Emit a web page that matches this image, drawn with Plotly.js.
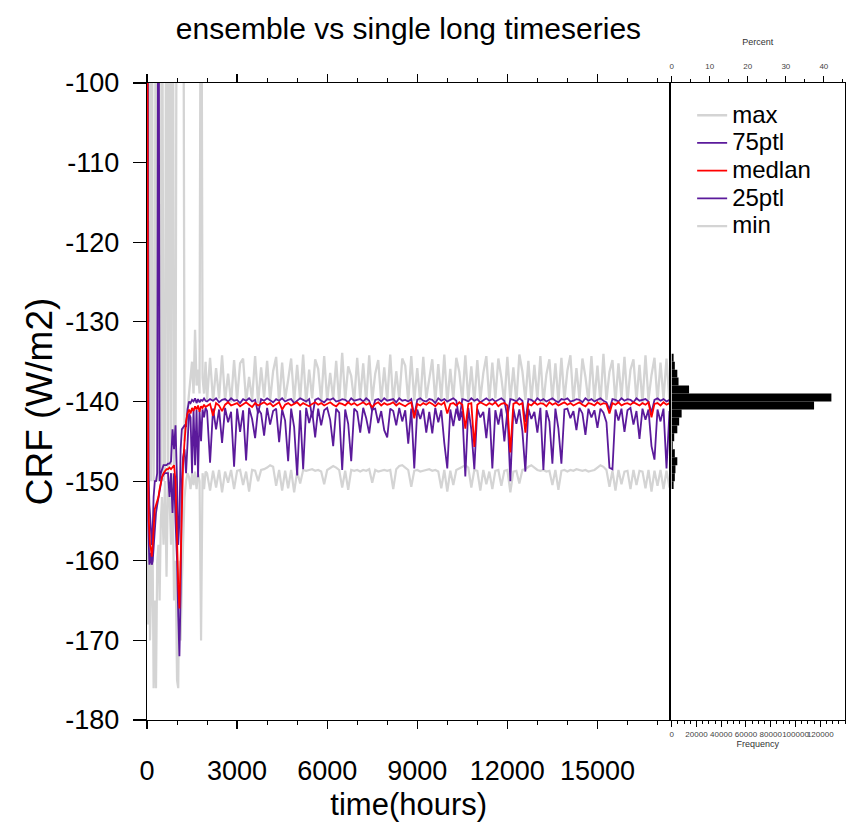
<!DOCTYPE html>
<html>
<head>
<meta charset="utf-8">
<script src="https://cdn.plot.ly/plotly-3.0.1.min.js"></script>
<style>html,body{margin:0;padding:0;background:#fff;}#chart{width:854px;height:835px;}</style>
</head>
<body>
<div id="chart"></div>
<script>
// ---- time axis (hours) ----
const hours = [0,20,40,60,80,100,130,160,190,220,260,300,340,380,420,460,500,550,600,650,700,750,800,850,900,950,1000,1040,1080,1120,1160,1200,1250,1300,1350,1400,1450,1500,1550,1600,1650,1700,1750,1800,1850,1900,1950,
2000,2100,2200,2300,2400,2500,2600,2700,2800,2900,3000,3100,3200,3300,3400,3500,3600,3700,3800,3900,
4000,4100,4200,4300,4400,4500,4600,4700,4800,4900,5000,5100,5200,5300,5400,5500,5600,5700,5800,5900,
6000,6100,6200,6300,6400,6500,6600,6700,6800,6900,7000,7100,7200,7300,7400,7500,7600,7700,7800,7900,
8000,8100,8200,8300,8400,8500,8600,8700,8800,8900,9000,9100,9200,9300,9400,9500,9600,9700,9800,9900,
10000,10100,10200,10300,10400,10500,10600,10700,10800,10900,11000,11100,11200,11300,11400,11500,11600,11700,11800,11900,
12000,12100,12200,12300,12400,12500,12600,12700,12800,12900,13000,13100,13200,13300,13400,13500,13600,13700,13800,13900,
14000,14100,14200,14300,14400,14500,14600,14700,14800,14900,15000,15100,15200,15300,15400,15500,15600,15700,15800,15900,
16000,16100,16200,16300,16400,16500,16600,16700,16800,16900,17000,17100,17200,17300,17400];

// ---- ensemble statistics (W/m2) ----
const crfMax = [-60,-60,-90,-60,-130,-70,-150,-60,-140,-150,-130,-70,-150,-60,-145,-150,-70,-150,-148,-60,-150,-70,-148,-60,-148,-146,-60,-60,-80,-60,-90,-60,-145,-143,-140,-138,-137,-135,-139,-131,-138,-136,-139,-60,-137,-139,-135,
-139.8,-134.5,-140.0,-135.8,-139.6,-134.2,-139.9,-136.5,-140.1,-134.8,
-139.7,-135.2,-134.6,-140.0,-136.9,-139.8,-134.3,-140.2,-135.7,-139.5,
-134.9,-139.9,-136.2,-134.4,-140.1,-135.1,-139.7,-137.3,-134.6,-140.0,
-135.4,-139.8,-134.1,-140.2,-136.0,-139.6,-134.7,-135.9,-140.0,-134.3,
-139.9,-136.4,-139.7,-134.9,-140.1,-133.9,-139.8,-135.6,-136.8,-140.0,
-134.5,-139.6,-135.2,-140.1,-134.2,-139.9,-136.5,-134.8,-140.0,-135.7,
-139.8,-134.1,-140.2,-136.2,-139.7,-134.6,-135.5,-140.0,-134.3,-139.9,
-135.8,-140.1,-134.4,-139.6,-136.9,-134.7,-140.0,-135.3,-139.8,-134.1,
-140.2,-135.9,-139.7,-134.5,-136.3,-140.0,-134.2,-139.9,-135.6,-140.1,
-134.8,-139.8,-136.4,-134.3,-140.0,-135.1,-139.6,-134.6,-137.0,-140.2,
-134.4,-139.9,-135.7,-140.1,-134.1,-136.2,-139.8,-134.9,-140.0,-135.4,
-139.7,-134.3,-140.2,-136.6,-134.7,-139.9,-135.2,-140.0,-134.5,-139.8,
-136.1,-134.2,-140.1,-135.8,-139.7,-134.6,-136.9,-140.0,-134.3,-139.9,
-135.5,-140.2,-134.0,-139.8,-136.3,-134.8,-140.1,-135.2,-139.6,-134.4,
-140.0,-136.0,-134.7,-139.9,-135.4,-140.2,-134.2,-139.8,-136.7,-134.5,
-140.0,-135.1,-139.7,-134.6,-140.1];

const crf75 = [-60,-60,-128,-150,-153,-155,-156,-158,-156,-152,-150,-150,-149,-60,-150,-149,-148.5,-148,-148,-148,-147.8,-147.8,-147.5,-143.5,-146,-143,-150,-158,-155,-146,-143.5,-143.3,-143,-143.2,-141,-140,-140.2,-139.8,-140,-139.6,-140.2,-139.7,-140.1,-139.8,-139.9,-139.6,-139.9,
-140.0,-139.7,-139.9,-139.6,-140.1,-139.8,-139.7,-140.0,-139.6,-139.9,
-139.8,-140.2,-139.7,-139.9,-139.6,-140.0,-139.8,-141.5,-139.7,-139.9,
-139.6,-139.8,-140.1,-139.7,-139.9,-139.6,-140.0,-139.8,-139.7,-140.2,
-139.9,-139.6,-139.8,-140.0,-139.7,-142.0,-139.8,-139.6,-139.9,-140.1,
-139.7,-139.8,-139.6,-140.0,-139.9,-139.7,-139.8,-140.1,-139.6,-139.9,
-139.8,-139.7,-140.0,-139.6,-139.9,-141.2,-139.8,-139.7,-140.0,-139.6,
-139.9,-139.8,-139.7,-140.1,-139.6,-139.9,-139.8,-140.0,-139.7,-141.8,
-139.8,-139.6,-139.9,-140.0,-139.7,-139.8,-140.2,-139.6,-139.9,-139.7,
-140.0,-139.8,-139.6,-139.9,-142.3,-139.7,-139.8,-140.0,-139.6,-139.9,
-139.7,-140.1,-139.8,-139.6,-139.9,-139.7,-140.0,-139.8,-139.6,-139.9,
-141.9,-139.7,-139.8,-140.0,-139.6,-139.9,-142.6,-139.7,-139.8,-140.1,
-139.6,-139.9,-139.7,-140.0,-139.8,-139.6,-139.9,-140.1,-139.7,-139.8,
-139.6,-140.0,-139.9,-139.7,-139.8,-140.1,-139.6,-139.9,-139.7,-140.0,
-139.8,-139.6,-139.9,-140.1,-141.0,-139.7,-139.8,-140.0,-139.6,-139.9,
-139.7,-139.8,-140.1,-139.6,-139.9,-139.8,-139.7,-140.0,-141.4,-139.8,
-139.6,-139.9,-139.7,-140.0,-139.8];

const crfMedian = [-60,-122,-150,-155,-157,-158,-158.5,-159.5,-158,-155,-153.5,-153,-152.5,-152,-151,-150,-149.5,-149,-148.8,-148.5,-148.5,-148.3,-148.5,-148.2,-148,-150,-158,-163,-166,-160,-152,-148,-145,-142.5,-141.5,-141,-141.5,-140.8,-141.2,-140.6,-141,-140.5,-141.3,-140.6,-140.8,-140.4,-140.7,
-140.6,-140.3,-141.8,-140.2,-140.5,-141.2,-140.4,-140.1,-140.5,-140.3,
-140.2,-140.6,-140.3,-140.1,-140.4,-140.7,-140.2,-140.5,-140.3,-140.1,
-140.4,-140.2,-140.6,-140.3,-140.1,-141.0,-140.4,-140.2,-140.5,-140.3,
-140.1,-140.5,-140.2,-140.4,-140.6,-140.3,-140.1,-140.4,-140.2,-140.5,
-140.3,-140.1,-140.4,-140.6,-140.2,-140.3,-140.5,-140.1,-140.4,-140.2,
-140.5,-140.3,-140.1,-140.4,-140.2,-140.7,-140.3,-140.1,-140.5,-140.2,
-140.4,-140.3,-140.1,-140.5,-140.2,-140.4,-140.6,-140.3,-140.1,-142.1,
-140.3,-140.5,-140.2,-140.4,-140.1,-140.3,-140.6,-140.2,-140.4,-140.1,
-141.5,-140.3,-140.2,-140.5,-140.1,-140.4,-143.4,-140.3,-140.2,-145.7,
-140.4,-140.1,-140.3,-140.5,-140.2,-140.4,-140.1,-140.6,-140.3,-140.2,
-140.5,-146.4,-140.3,-140.1,-140.4,-140.2,-143.9,-140.3,-140.5,-140.1,
-140.4,-140.2,-140.3,-140.6,-140.1,-140.4,-140.2,-140.5,-140.3,-140.1,
-140.4,-140.2,-140.5,-140.3,-140.1,-140.4,-140.6,-140.2,-140.3,-140.5,
-140.1,-140.4,-140.2,-140.3,-141.5,-140.2,-140.4,-140.1,-140.5,-140.3,
-140.2,-140.4,-140.1,-140.3,-140.5,-140.2,-140.4,-140.1,-142.0,-140.3,
-140.2,-140.5,-140.1,-140.4,-140.2];

const crf25 = [-60,-145,-155,-158,-160.5,-160,-159,-160.5,-160,-158,-155,-154,-153,-152,-151,-150.5,-149.5,-149.2,-149,-149,-149,-152,-149,-154,-149,-155,-160,-167,-172,-164,-150,-147,-146,-149,-144,-141.5,-142,-149,-141,-148,-141,-149.5,-141.2,-145,-141,-142,-140.8,
-141.2,-147.7,-140.9,-143.5,-141.0,-145.2,-140.8,-142.6,-141.3,-148.2,
-140.9,-143.8,-141.1,-147.4,-140.8,-142.2,-144.6,-140.9,-141.5,-144.3,
-140.8,-142.9,-141.2,-140.9,-145.1,-141.0,-142.4,-147.5,-140.9,-143.2,
-149.3,-141.1,-148.5,-140.8,-142.7,-141.2,-144.5,-140.9,-143.0,-141.1,
-140.8,-142.3,-145.6,-140.9,-141.4,-148.6,-141.0,-142.8,-147.5,-140.9,
-141.3,-143.9,-140.8,-142.1,-144.0,-141.0,-140.9,-142.7,-141.2,-143.6,
-144.5,-140.9,-141.2,-143.0,-140.8,-142.5,-141.1,-145.3,-140.9,-148.4,
-141.0,-142.2,-140.9,-143.9,-141.3,-144.0,-140.8,-142.6,-141.1,-145.2,
-148.4,-141.0,-143.1,-140.9,-142.4,-141.2,-149.4,-140.8,-143.5,-148.5,
-140.9,-142.0,-141.3,-144.6,-140.8,-148.4,-141.1,-142.9,-140.9,-145.0,
-141.2,-150.0,-140.9,-142.8,-141.0,-143.7,-148.8,-140.9,-142.2,-141.3,
-143.9,-140.8,-148.6,-141.1,-142.5,-147.8,-140.9,-143.4,-147.8,-141.0,
-140.9,-142.1,-141.2,-143.6,-140.8,-141.5,-144.2,-140.9,-142.0,-141.1,
-143.3,-140.9,-141.4,-142.6,-148.3,-148.5,-141.0,-142.4,-140.9,-143.8,
-141.1,-140.8,-142.9,-141.2,-144.7,-140.9,-142.3,-141.0,-145.6,-147.3,
-141.0,-142.5,-140.9,-148.4,-141.2];

const crfMin = [-90,-120,-168,-150,-160,-170,-165,-158,-160,-176,-165,-176,-160,-158,-165,-155,-152,-158,-150,-162,-150,-152,-158,-149,-165,-160,-175,-176,-160,-170,-163,-158,-152,-150,-149,-149.5,-151,-149,-150.5,-148.8,-151,-149,-150,-170,-149,-151,-148.8,
-149.0,-151.2,-148.7,-150.8,-148.6,-151.4,-148.8,-150.2,-148.6,-151.0,
-148.7,-148.6,-150.5,-148.8,-151.3,-148.6,-148.7,-150.0,-148.6,-148.5,
-148.3,-148.0,-148.2,-150.6,-148.6,-151.2,-148.7,-150.9,-148.6,-151.4,
-148.8,-150.3,-148.6,-148.7,-148.6,-148.5,-148.7,-148.6,-148.8,-150.4,
-148.6,-148.4,-148.1,-148.3,-148.6,-150.8,-148.7,-151.1,-148.6,-148.7,
-148.6,-148.8,-148.6,-148.7,-148.5,-150.2,-148.6,-148.8,-148.7,-148.6,
-148.7,-148.6,-151.0,-148.5,-148.1,-148.0,-148.3,-148.6,-150.7,-148.7,
-148.6,-148.8,-148.7,-148.6,-148.5,-148.7,-148.6,-148.8,-150.9,-148.6,
-151.3,-148.7,-150.5,-148.6,-148.4,-148.2,-148.0,-148.3,-150.8,-148.6,
-148.7,-151.2,-148.6,-150.4,-148.8,-151.0,-148.7,-148.6,-150.6,-148.7,
-148.6,-151.4,-148.8,-148.7,-150.3,-148.6,-148.5,-148.2,-148.0,-148.3,
-148.6,-148.7,-148.6,-148.8,-148.7,-150.5,-148.6,-151.1,-148.7,-148.6,
-148.8,-148.6,-148.7,-148.5,-148.6,-148.7,-148.6,-148.8,-148.7,-148.6,
-148.3,-148.0,-148.2,-148.6,-150.7,-148.7,-151.2,-148.6,-150.4,-148.8,
-148.7,-151.0,-148.6,-150.5,-148.7,-148.8,-150.9,-148.6,-151.3,-148.7,
-150.6,-148.6,-151.0,-148.7,-150.8];

// ---- histogram of all values (bin centres, counts) ----
const binCentres = [-134.5,-135.5,-136.5,-137.5,-138.5,-139.5,-140.5,-141.5,-142.5,-143.5,-144.5,-145.5,-146.5,-147.5,-148.5,-149.5,-150.5];
const binCounts  = [1500,2500,4500,5500,14000,129000,115000,8000,6000,4500,2000,800,2500,4500,3000,2500,1500];

const freqTicks = [0,20000,40000,60000,80000,100000,120000];
const pctTicks = [0,10,20,30,40];
const xTicks = [0,3000,6000,9000,12000,15000];
const yTicks = [-180,-170,-160,-150,-140,-130,-120,-110,-100];
const yTickText = ['-180','-170','-160','-150','-140','-130','-120','-110','-100'];

const seriesNames  = ['max','75ptl','medlan','25ptl','min'];
const seriesColors = ['#d4d4d4','#5b1a9b','#ff0000','#5b1a9b','#d4d4d4'];

const FONT = 'Liberation Sans, Arial, Helvetica, sans-serif';

const total = binCounts.reduce((a,b)=>a+b,0);
const freqRange = [-1000, 140000];
const pctRange = freqRange.map(v => v/total*100);

function line(y, idx, rank, width){
  return {x: hours, y: y, type:'scatter', mode:'lines', xaxis:'x', yaxis:'y',
    name: '<span style="font-size:24px">'+seriesNames[idx]+'</span>',
    legendrank: rank,
    line:{color: seriesColors[idx], width: width}, hoverinfo:'skip'};
}

const traces = [
  line(crfMax,0,1,2.3),
  line(crfMin,4,5,2.2),
  line(crf25,3,4,1.8),
  line(crf75,1,2,1.8),
  line(crfMedian,2,3,1.8),
  {y: binCentres, x: binCounts, type:'bar', orientation:'h', xaxis:'x2', yaxis:'y2',
   width: 1, marker:{color:'#000', line:{width:0}}, showlegend:false, hoverinfo:'skip'},
  {x:[0], y:[-200], type:'scatter', mode:'markers', xaxis:'x3', yaxis:'y2', showlegend:false,
   marker:{opacity:0}, hoverinfo:'skip'}
];

const d1 = 0.75;
const layout = {
  width: 854, height: 835,
  margin:{l:147, r:9, t:83, b:115, pad:0},
  paper_bgcolor:'#fff', plot_bgcolor:'#fff',
  showlegend: true,
  legend:{x:0.781, y:0.979, xanchor:'left', yanchor:'top', bgcolor:'rgba(0,0,0,0)',
    font:{family:FONT, size:19, color:'#000'}, tracegroupgap:0},
  title:{text:'ensemble vs single long timeseries', x:0.3746, xref:'paper', xanchor:'center',
    y:0.966, yref:'container', yanchor:'middle', font:{family:FONT, size:30, color:'#000'}},
  xaxis:{domain:[0,d1], range:[0,17433], anchor:'y', tickvals:xTicks, ticktext:xTicks.map(String), tickangle:0,
    ticks:'outside', ticklen:8, tickwidth:1.2, tickcolor:'#000', showline:true, linecolor:'#000', linewidth:1.2,
    mirror:'ticks', showgrid:false, zeroline:false, ticklabelstandoff:18,
    minor:{dtick:1000, tick0:0, ticks:'outside', ticklen:4, tickwidth:1, tickcolor:'#000', showgrid:false},
    tickfont:{family:FONT, size:27, color:'#000'},
    title:{text:'time(hours)', font:{family:FONT, size:31, color:'#000'}, standoff:8}},
  yaxis:{domain:[0,1], range:[-180,-100], anchor:'x', tickvals:yTicks, ticktext:yTickText,
    ticks:'outside', ticklen:13, tickwidth:1.2, tickcolor:'#000', showline:true, linecolor:'#000', linewidth:1.2,
    mirror:false, showgrid:false, zeroline:false, ticklabelstandoff:8,
    tickfont:{family:FONT, size:27, color:'#000'},
    title:{text:'CRF (W/m2)', font:{family:FONT, size:37, color:'#000'}, standoff:1}},
  xaxis2:{domain:[d1,1], range:freqRange, anchor:'y2', tickvals:freqTicks, ticktext:freqTicks.map(String), tickangle:0,
    ticks:'outside', ticklen:6, tickwidth:1, tickcolor:'#000', showline:true, linecolor:'#000', linewidth:1.2,
    showgrid:false, zeroline:false,
    minor:{dtick:5000, tick0:0, ticks:'outside', ticklen:3, tickwidth:1, tickcolor:'#000', showgrid:false},
    tickfont:{family:FONT, size:8, color:'#444'},
    title:{text:'Frequency', font:{family:FONT, size:9, color:'#333'}, standoff:2}},
  xaxis3:{overlaying:'x2', side:'top', anchor:'y2', range:pctRange, tickvals:pctTicks, ticktext:pctTicks.map(String), tickangle:0,
    ticks:'outside', ticklen:6, tickwidth:1, tickcolor:'#000', showline:true, linecolor:'#000', linewidth:1.2,
    showgrid:false, zeroline:false, ticklabelstandoff:4,
    minor:{dtick:5, tick0:0, ticks:'outside', ticklen:3, tickwidth:1, tickcolor:'#000', showgrid:false},
    tickfont:{family:FONT, size:8, color:'#444'},
    title:{text:'Percent', font:{family:FONT, size:9, color:'#333'}, standoff:14}},
  yaxis2:{domain:[0,1], range:[-180,-100], anchor:'x2', showticklabels:false, ticks:'',
    showline:true, linecolor:'#000', linewidth:1.2, mirror:true, showgrid:false, zeroline:false}
};

Plotly.newPlot('chart', traces, layout, {displayModeBar:false, staticPlot:true});
</script>
</body>
</html>
